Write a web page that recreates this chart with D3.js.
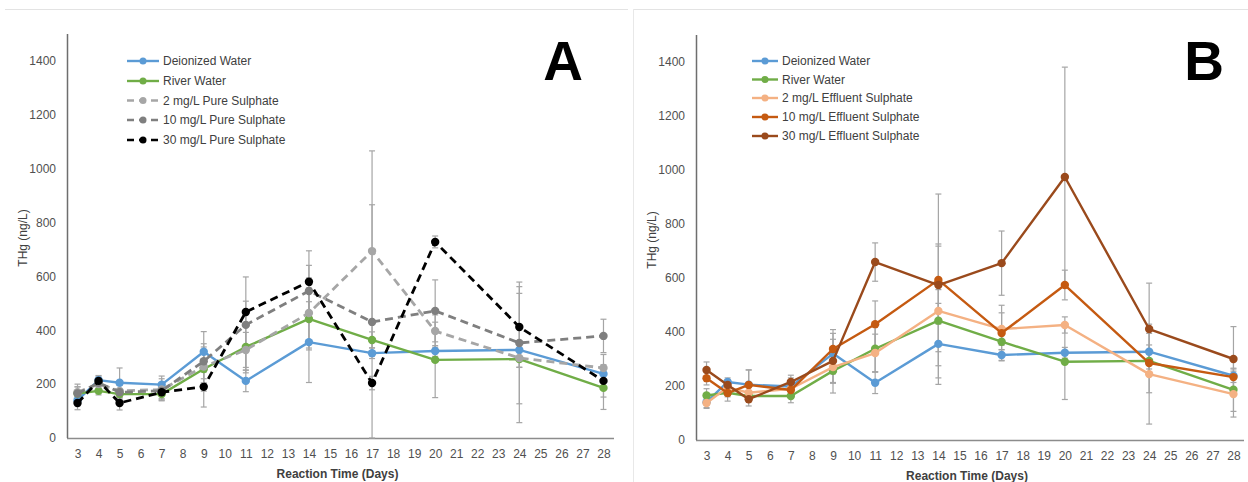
<!DOCTYPE html>
<html>
<head>
<meta charset="utf-8">
<script src="https://cdn.jsdelivr.net/npm/d3@7"></script>
<style>
  body { margin: 0; background: #fff; }
  svg { display: block; font-family: "Liberation Sans", Arial, sans-serif; }
  .tick text { fill: #505050; font-size: 12px; }
</style>
</head>
<body>
<svg id="chart" width="1248" height="482"></svg>
<script>
// categories on the x axis (every day shown, data only on some)
var days = d3.range(3, 29);
var sampleDays = [3, 4, 5, 7, 9, 11, 14, 17, 20, 24, 28];
var yTicks = [0, 200, 400, 600, 800, 1000, 1200, 1400];

// shared controls
var deionized    = [140, 215, 205, 198, 320, 212, 356, 315, 323, 327, 238];
var deionizedErr = [20, 15, 55, 32, 75, 40, 150, 20, 20, 25, 25];
var river        = [165, 175, 163, 163, 256, 338, 442, 364, 290, 293, 186];
var riverErr     = [25, 15, 20, 25, 82, 86, 115, 30, 140, 30, 80];

// panel A, pure sulphate
var pure2     = [170, 200, 175, 180, 265, 327, 464, 694, 397, 297, 260];
var pure2Err  = [30, 20, 25, 40, 60, 65, 130, 372, 60, 240, 50];
var pure10    = [165, 205, 170, 175, 285, 420, 546, 431, 472, 353, 379];
var pure10Err = [25, 20, 25, 30, 65, 178, 95, 435, 115, 226, 62];
var pure30    = [130, 212, 130, 170, 190, 468, 580, 204, 728, 412, 212];
var pure30Err = [25, 20, 26, 25, 75, 40, 115, 25, 22, 150, 60];

// panel B, effluent sulphate
var eff2      = [137, 195, 175, 190, 270, 322, 478, 411, 426, 244, 170];
var eff2Err   = [20, 25, 30, 30, 60, 70, 248, 60, 30, 185, 85];
var eff10     = [229, 174, 204, 185, 337, 429, 593, 396, 574, 285, 233];
var eff10Err  = [25, 30, 55, 25, 72, 86, 318, 103, 55, 110, 60];
var eff30     = [259, 204, 151, 215, 293, 659, 574, 655, 974, 411, 300];
var eff30Err  = [30, 20, 25, 25, 80, 71, 144, 119, 407, 170, 120];

var namesA = ["Deionized Water", "River Water", "2 mg/L Pure Sulphate", "10 mg/L Pure Sulphate", "30 mg/L Pure Sulphate"];
var namesB = ["Deionized Water", "River Water", "2 mg/L Effluent Sulphate", "10 mg/L Effluent Sulphate", "30 mg/L Effluent Sulphate"];

var svg = d3.select("#chart");

// light panel frames
svg.append("line").attr("x1", 5).attr("x2", 628).attr("y1", 9.5).attr("y2", 9.5).attr("stroke", "#e3e3e3");
svg.append("line").attr("x1", 633).attr("x2", 1248).attr("y1", 9.5).attr("y2", 9.5).attr("stroke", "#e3e3e3");
svg.append("line").attr("x1", 633.5).attr("x2", 633.5).attr("y1", 9).attr("y2", 482).attr("stroke", "#e8e8e8");

function drawPanel(p) {
    var g = svg.append("g");

    var x = d3.scalePoint().domain(days).range([p.left, p.right]).padding(0.5);
    var y = d3.scaleLinear().domain([0, 1500]).range([p.bottom, p.top]);

    // axes
    g.append("g")
        .attr("transform", "translate(0," + p.bottom + ")")
        .call(d3.axisBottom(x).tickSize(0).tickPadding(11))
        .call(function(a) { a.select(".domain").remove(); });
    g.append("g")
        .attr("transform", "translate(" + p.left + ",0)")
        .call(d3.axisLeft(y).tickValues(yTicks).tickFormat(d3.format("d")).tickSize(0).tickPadding(11))
        .call(function(a) { a.select(".domain").remove(); });

    g.append("line").attr("x1", p.left).attr("x2", p.right)
        .attr("y1", p.bottom + 0.5).attr("y2", p.bottom + 0.5)
        .attr("stroke", "#8c8c8c").attr("stroke-width", 1.5);
    g.append("line").attr("x1", p.left + 0.5).attr("x2", p.left + 0.5)
        .attr("y1", y(1500)).attr("y2", p.bottom)
        .attr("stroke", "#6e6e6e").attr("stroke-width", 1.5);

    // axis titles
    g.append("text")
        .attr("x", (p.left + p.right) / 2 - 3).attr("y", p.bottom + 40)
        .attr("text-anchor", "middle").attr("fill", "#404040")
        .style("font-size", "12px").style("font-weight", "bold")
        .text("Reaction Time (Days)");
    g.append("text")
        .attr("transform", "translate(" + p.ytitleX + "," + (p.bottom - 200) + ") rotate(-90)")
        .attr("text-anchor", "middle").attr("fill", "#404040")
        .style("font-size", "12px")
        .text("THg (ng/L)");

    // error bars behind everything
    p.series.forEach(function(s) {
        var eb = g.append("g").attr("stroke", "#a5a5a5").attr("stroke-width", 1.2);
        sampleDays.forEach(function(d, i) {
            var cx = x(d);
            var hi = y(s.values[i] + s.err[i]);
            var lo = y(Math.max(0, s.values[i] - s.err[i]));
            eb.append("line").attr("x1", cx).attr("x2", cx).attr("y1", hi).attr("y2", lo);
            eb.append("line").attr("x1", cx - 3).attr("x2", cx + 3).attr("y1", hi).attr("y2", hi);
            eb.append("line").attr("x1", cx - 3).attr("x2", cx + 3).attr("y1", lo).attr("y2", lo);
        });
    });

    var line = d3.line()
        .x(function(d) { return x(d[0]); })
        .y(function(d) { return y(d[1]); });

    p.series.forEach(function(s) {
        var pts = sampleDays.map(function(d, i) { return [d, s.values[i]]; });
        g.append("path")
            .datum(pts)
            .attr("d", line)
            .attr("fill", "none")
            .attr("stroke", s.color)
            .attr("stroke-width", s.dash ? 2.8 : 2.4)
            .attr("stroke-dasharray", s.dash ? "8,5" : null)
            .attr("stroke-linejoin", "round");
        g.selectAll(null)
            .data(pts)
            .enter().append("circle")
            .attr("cx", function(d) { return x(d[0]); })
            .attr("cy", function(d) { return y(d[1]); })
            .attr("r", 4.2)
            .attr("fill", s.color);
    });

    // legend
    var lg = g.append("g");
    p.series.forEach(function(s, i) {
        var ly = p.legY[i];
        lg.append("line")
            .attr("x1", p.legX).attr("x2", p.legX + p.legW)
            .attr("y1", ly).attr("y2", ly)
            .attr("stroke", s.color).attr("stroke-width", 2.4)
            .attr("stroke-dasharray", s.dash ? "7,5" : null);
        lg.append("circle").attr("cx", p.legX + p.legW / 2).attr("cy", ly).attr("r", 3.5).attr("fill", s.color);
        lg.append("text")
            .attr("x", p.legX + p.legW + 4).attr("y", ly + 4.3)
            .attr("fill", "#404040").style("font-size", "12px")
            .text(s.name);
    });

    // panel letter
    g.append("text")
        .attr("x", p.letterX).attr("y", 80)
        .attr("text-anchor", "middle").attr("fill", "#000")
        .style("font-size", "55px").style("font-weight", "bold")
        .text(p.letter);
}

drawPanel({
    left: 67, right: 614, bottom: 438, top: 34, ytitleX: 27,
    legX: 127, legW: 32, legY: [61, 81, 100.5, 120, 140],
    letter: "A", letterX: 563,
    series: [
        {name: namesA[0], values: deionized, err: deionizedErr, color: "#5b9bd5"},
        {name: namesA[1], values: river, err: riverErr, color: "#70ad47"},
        {name: namesA[2], values: pure2, err: pure2Err, color: "#a6a6a6", dash: true},
        {name: namesA[3], values: pure10, err: pure10Err, color: "#7f7f7f", dash: true},
        {name: namesA[4], values: pure30, err: pure30Err, color: "#000000", dash: true}
    ]
});

drawPanel({
    left: 696, right: 1244, bottom: 440, top: 35, ytitleX: 656,
    legX: 752, legW: 26, legY: [61, 79.5, 98, 117, 136],
    letter: "B", letterX: 1204,
    series: [
        {name: namesB[0], values: deionized, err: deionizedErr, color: "#5b9bd5"},
        {name: namesB[1], values: river, err: riverErr, color: "#70ad47"},
        {name: namesB[2], values: eff2, err: eff2Err, color: "#f4b183"},
        {name: namesB[3], values: eff10, err: eff10Err, color: "#c55a11"},
        {name: namesB[4], values: eff30, err: eff30Err, color: "#9a4a1c"}
    ]
});
</script>
</body>
</html>
